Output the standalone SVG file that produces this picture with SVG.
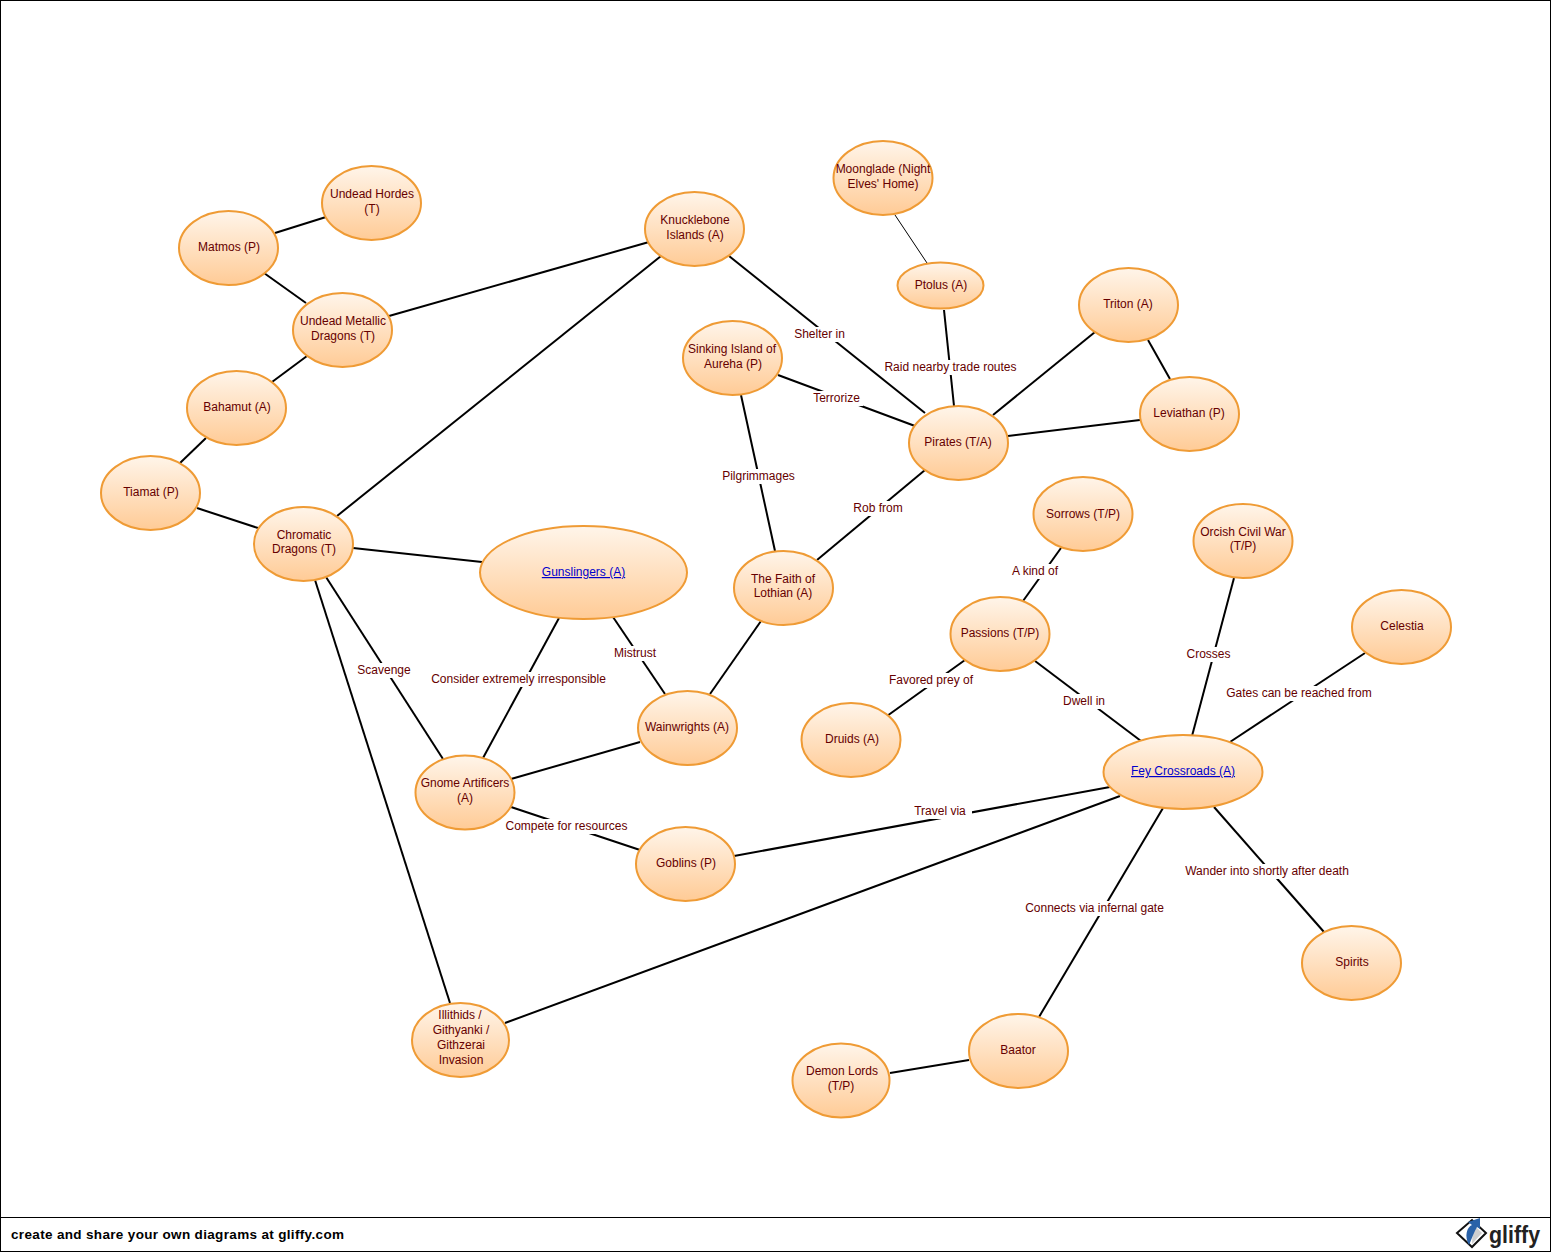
<svg xmlns="http://www.w3.org/2000/svg" width="1552" height="1253" viewBox="0 0 1552 1253">
<style>
text{font-family:"Liberation Sans",Arial,sans-serif;font-size:12px;fill:#660000;text-anchor:middle}
.n ellipse{fill:url(#g);stroke:#ef9b35;stroke-width:2}
.c line{stroke:#000;stroke-width:2}
.l rect{fill:#fff}
.lk{fill:#0000cc;text-decoration:underline}
</style>
<defs><linearGradient id="g" x1="0" y1="0" x2="0" y2="1"><stop offset="0" stop-color="#fff5ea"/><stop offset="1" stop-color="#ffcb96"/></linearGradient></defs>
<rect x="0" y="0" width="1552" height="1253" fill="#fff"/>
<rect x="0.5" y="0.5" width="1550" height="1251" fill="none" stroke="#000"/>
<line x1="0" y1="1217.5" x2="1551" y2="1217.5" stroke="#000"/>
<g id="connectors" class="c">
<line x1="275" y1="233" x2="326" y2="217"/>
<line x1="264" y1="273" x2="306" y2="303"/>
<line x1="272" y1="382" x2="307" y2="356"/>
<line x1="180" y1="463" x2="206" y2="438"/>
<line x1="197" y1="508" x2="258" y2="528"/>
<line x1="389" y1="316" x2="649" y2="242"/>
<line x1="337" y1="516" x2="661" y2="256"/>
<line x1="353" y1="548" x2="482" y2="562"/>
<line x1="326" y1="577" x2="443" y2="759"/>
<line x1="315" y1="580" x2="450" y2="1003"/>
<line x1="559" y1="618" x2="483" y2="758"/>
<line x1="613" y1="617" x2="665" y2="694"/>
<line x1="511" y1="779" x2="640" y2="742"/>
<line x1="511" y1="807" x2="640" y2="850"/>
<line x1="710" y1="694" x2="761" y2="621"/>
<line x1="741" y1="395" x2="775" y2="551"/>
<line x1="817" y1="560" x2="925" y2="470"/>
<line x1="729" y1="256" x2="925" y2="413"/>
<line x1="778" y1="375" x2="915" y2="426"/>
<line x1="895" y1="215" x2="927" y2="263" style="stroke-width:1"/>
<line x1="944" y1="310" x2="954" y2="406"/>
<line x1="993" y1="415" x2="1095" y2="332"/>
<line x1="1148" y1="340" x2="1170" y2="379"/>
<line x1="1008" y1="436" x2="1140" y2="420"/>
<line x1="1061" y1="548" x2="1023" y2="601"/>
<line x1="965" y1="660" x2="887" y2="716"/>
<line x1="1035" y1="661" x2="1141" y2="741"/>
<line x1="1234" y1="578" x2="1192" y2="736"/>
<line x1="1365" y1="653" x2="1230" y2="742"/>
<line x1="1110" y1="787" x2="734" y2="856"/>
<line x1="1120" y1="796" x2="505" y2="1023"/>
<line x1="1163" y1="808" x2="1039" y2="1017"/>
<line x1="1214" y1="807" x2="1324" y2="932"/>
<line x1="890" y1="1073" x2="969" y2="1060"/>
</g>
<g id="connector-labels" class="l">
<rect x="792" y="327" width="55" height="15"/><text x="819.500" y="338">Shelter in</text>
<rect x="882" y="360" width="137" height="15"/><text x="950.500" y="371">Raid nearby trade routes</text>
<rect x="810" y="391" width="53" height="15"/><text x="836.500" y="402">Terrorize</text>
<rect x="720" y="469" width="77" height="15"/><text x="758.500" y="480">Pilgrimmages</text>
<rect x="851" y="501" width="54" height="15"/><text x="878" y="512">Rob from</text>
<rect x="1009" y="564" width="52" height="15"/><text x="1035" y="575">A kind of</text>
<rect x="612" y="646" width="46" height="15"/><text x="635" y="657">Mistrust</text>
<rect x="1184" y="647" width="49" height="15"/><text x="1208.500" y="658">Crosses</text>
<rect x="355" y="663" width="58" height="15"/><text x="384" y="674">Scavenge</text>
<rect x="429" y="672" width="179" height="15"/><text x="518.500" y="683">Consider extremely irresponsible</text>
<rect x="887" y="673" width="88" height="15"/><text x="931" y="684">Favored prey of</text>
<rect x="1224" y="686" width="150" height="15"/><text x="1299" y="697">Gates can be reached from</text>
<rect x="1061" y="694" width="46" height="15"/><text x="1084" y="705">Dwell in</text>
<rect x="911" y="804" width="61" height="15"/><text x="940" y="815">Travel via</text>
<rect x="503" y="819" width="127" height="15"/><text x="566.500" y="830">Compete for resources</text>
<rect x="1183" y="864" width="168" height="15"/><text x="1267" y="875">Wander into shortly after death</text>
<rect x="1023" y="901" width="143" height="15"/><text x="1094.500" y="912">Connects via infernal gate</text>
</g>
<g id="undead-hordes" class="n"><ellipse cx="371.500" cy="203" rx="49.500" ry="37"/><text x="372" y="198">Undead Hordes</text><text x="372" y="213">(T)</text></g>
<g id="matmos" class="n"><ellipse cx="228.500" cy="248" rx="49.500" ry="37"/><text x="229" y="251">Matmos (P)</text></g>
<g id="undead-metallic" class="n"><ellipse cx="342.500" cy="330" rx="49.500" ry="37"/><text x="343" y="325">Undead Metallic</text><text x="343" y="340">Dragons (T)</text></g>
<g id="bahamut" class="n"><ellipse cx="236.500" cy="408" rx="49.500" ry="37"/><text x="237" y="411">Bahamut (A)</text></g>
<g id="tiamat" class="n"><ellipse cx="150.500" cy="493" rx="49.500" ry="37"/><text x="151" y="496">Tiamat (P)</text></g>
<g id="chromatic" class="n"><ellipse cx="303.500" cy="544" rx="49.500" ry="37"/><text x="304" y="539">Chromatic</text><text x="304" y="553">Dragons (T)</text></g>
<g id="gunslingers" class="n"><ellipse cx="583.500" cy="572.500" rx="103.500" ry="46.500"/><text class="lk" x="583.500" y="576">Gunslingers (A)</text></g>
<g id="knucklebone" class="n"><ellipse cx="694.500" cy="229" rx="49.500" ry="37"/><text x="695" y="224">Knucklebone</text><text x="695" y="239">Islands (A)</text></g>
<g id="moonglade" class="n"><ellipse cx="883" cy="178" rx="49.500" ry="37"/><text x="883" y="173">Moonglade (Night</text><text x="883" y="188">Elves' Home)</text></g>
<g id="ptolus" class="n"><ellipse cx="940.500" cy="285.500" rx="43" ry="23"/><text x="941" y="289">Ptolus (A)</text></g>
<g id="sinking" class="n"><ellipse cx="732.500" cy="358" rx="49.500" ry="37"/><text x="732" y="353">Sinking Island of</text><text x="733" y="368">Aureha (P)</text></g>
<g id="triton" class="n"><ellipse cx="1128.500" cy="305" rx="49.500" ry="37"/><text x="1128" y="308">Triton (A)</text></g>
<g id="leviathan" class="n"><ellipse cx="1189.500" cy="414" rx="49.500" ry="37"/><text x="1189" y="417">Leviathan (P)</text></g>
<g id="pirates" class="n"><ellipse cx="958.500" cy="443" rx="49.500" ry="37"/><text x="958" y="446">Pirates (T/A)</text></g>
<g id="faith" class="n"><ellipse cx="783.500" cy="588" rx="49.500" ry="37"/><text x="783" y="583">The Faith of</text><text x="783" y="597">Lothian (A)</text></g>
<g id="sorrows" class="n"><ellipse cx="1083" cy="514" rx="49.500" ry="37"/><text x="1083" y="518">Sorrows (T/P)</text></g>
<g id="orcish" class="n"><ellipse cx="1243" cy="541" rx="49.500" ry="37"/><text x="1243" y="536">Orcish Civil War</text><text x="1243" y="550">(T/P)</text></g>
<g id="celestia" class="n"><ellipse cx="1401.500" cy="627" rx="49.500" ry="37"/><text x="1402" y="630">Celestia</text></g>
<g id="passions" class="n"><ellipse cx="1000" cy="634" rx="49.500" ry="37"/><text x="1000" y="637">Passions (T/P)</text></g>
<g id="wainwrights" class="n"><ellipse cx="687.500" cy="728" rx="49.500" ry="37"/><text x="687" y="731">Wainwrights (A)</text></g>
<g id="druids" class="n"><ellipse cx="851" cy="740" rx="49.500" ry="37"/><text x="852" y="743">Druids (A)</text></g>
<g id="fey-crossroads" class="n"><ellipse cx="1183" cy="772" rx="79.500" ry="37"/><text class="lk" x="1183" y="775">Fey Crossroads (A)</text></g>
<g id="gnome" class="n"><ellipse cx="465" cy="792.500" rx="49.500" ry="37"/><text x="465" y="787">Gnome Artificers</text><text x="465" y="802">(A)</text></g>
<g id="goblins" class="n"><ellipse cx="685.500" cy="864" rx="49.500" ry="37"/><text x="686" y="867">Goblins (P)</text></g>
<g id="spirits" class="n"><ellipse cx="1351.500" cy="963" rx="49.500" ry="37"/><text x="1352" y="966">Spirits</text></g>
<g id="illithids" class="n"><ellipse cx="460.500" cy="1040" rx="48.500" ry="37"/><text x="460" y="1019">Illithids /</text><text x="461" y="1034">Githyanki /</text><text x="461" y="1049">Githzerai</text><text x="461" y="1064">Invasion</text></g>
<g id="baator" class="n"><ellipse cx="1018.500" cy="1051" rx="49.500" ry="37"/><text x="1018" y="1054">Baator</text></g>
<g id="demon-lords" class="n"><ellipse cx="841" cy="1080.500" rx="48.500" ry="37"/><text x="842" y="1075">Demon Lords</text><text x="841" y="1090">(T/P)</text></g>
<text x="11" y="1238.500" style="text-anchor:start;font-weight:bold;font-size:13.500px;fill:#000" textLength="333">create and share your own diagrams at gliffy.com</text>
<g id="logo">
<path d="M1457 1233 L1472 1220 L1486 1233 L1472 1247 Z" fill="#fff" stroke="#111" stroke-width="2"/>
<path d="M1473 1224 L1482 1233 L1472 1244 Z" fill="#cfcfcf"/>
<path d="M1469 1245 C1464 1236 1467 1227 1472 1225 L1468 1222 L1480 1218 L1480 1229 L1477 1227 C1474 1232 1472 1238 1469 1245 Z" fill="#2a62a8"/>
<text x="1489" y="1243" style="text-anchor:start;font-size:24px;font-weight:bold;fill:#222" textLength="51" lengthAdjust="spacingAndGlyphs">gliffy</text>
</g>
</svg>
